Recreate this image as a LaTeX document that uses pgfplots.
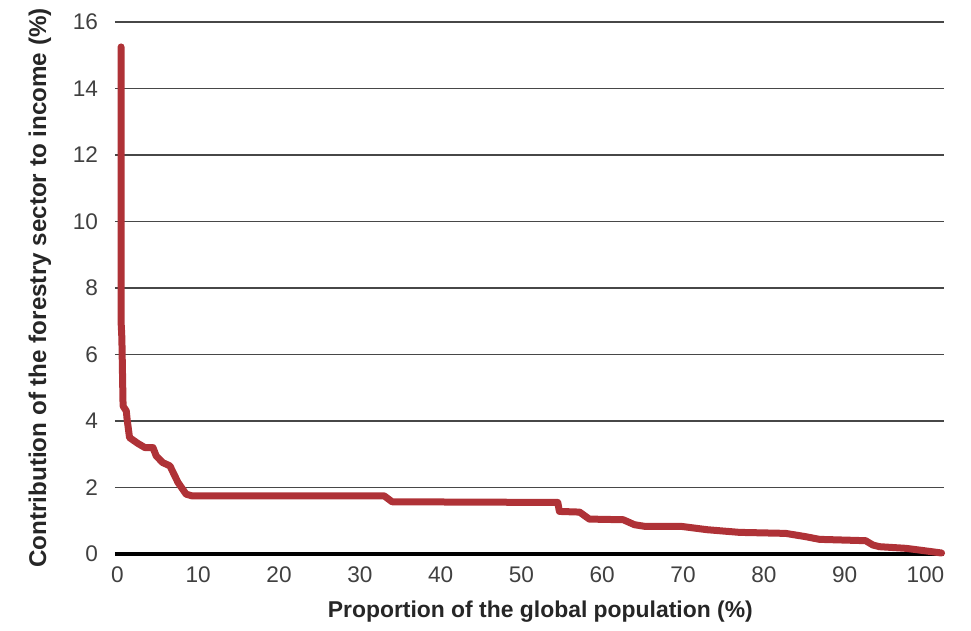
\documentclass[border=0pt]{standalone}
\usepackage{fontspec}
\setmainfont{Liberation Sans}
\usepackage{pgfplots}
\pgfplotsset{compat=1.18}
\definecolor{curve}{RGB}{175,50,55}
\pgfplotstableread{
x y
0.45 15.25
0.45 7.0
0.55 6.5
0.7 4.45
1.1 4.3
1.2 4.05
1.5 3.5
2.5 3.33
3.4 3.2
4.4 3.2
4.8 2.95
5.6 2.75
6.5 2.65
7.5 2.15
8.5 1.8
9.2 1.75
33.0 1.75
34.0 1.57
54.5 1.55
54.7 1.28
57.2 1.26
58.4 1.05
62.6 1.03
64.0 0.88
65.3 0.83
69.8 0.83
73.0 0.73
77.0 0.65
82.7 0.62
85.2 0.52
86.9 0.44
92.6 0.40
93.5 0.27
94.3 0.22
97.6 0.17
99.2 0.12
102.0 0.03
}\curvedata
\begin{document}
\begin{tikzpicture}
\begin{axis}[name=ax, scale only axis, width=414.5pt, height=266pt,
 xmin=-0.3, xmax=102.3, ymin=0, ymax=16,
 xtick={0,10,...,100}, ytick={0,2,...,16},
 axis line style={draw=none}, major tick length=0pt,
 ymajorgrids, grid style={black!72, line width=0.9pt},
 clip=false,
 /pgf/number format/assume math mode=true,
 tick label style={font=\fontsize{11.3}{13}\selectfont, text=black!75},
 yticklabel style={xshift=-5pt},
 xticklabel style={yshift=-3pt},
 xlabel={Proportion of the global population (\%)},
 ylabel={Contribution of the forestry sector to income (\%)},
 label style={text=black!85},
 xlabel style={font=\bfseries\fontsize{11.45}{14}\selectfont, at={(axis description cs:0.513,-0.109)}, anchor=center},
 ylabel style={font=\bfseries\fontsize{12.1}{14}\selectfont, at={(axis description cs:-0.0905,0.5)}, anchor=center},
]
\draw[black, line width=1.6pt] (axis cs:-0.3,0) -- (axis cs:102.3,0);
\addplot[curve, line width=3.5pt, line join=round, line cap=round] table {\curvedata};
\end{axis}
\pgfresetboundingbox
\path ([xshift=-57.5pt,yshift=-38.5pt]ax.south west) rectangle ([xshift=13.5pt,yshift=11pt]ax.north east);
\end{tikzpicture}
\end{document}
